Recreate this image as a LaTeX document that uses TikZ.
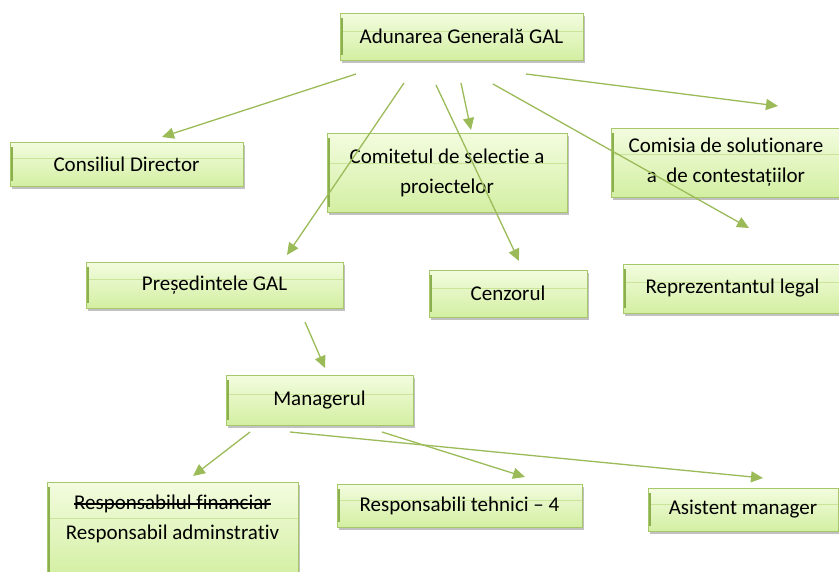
\documentclass[tikz,border=0pt]{standalone}
\usepackage{fontspec}
\setmainfont{Carlito}[Ligatures={NoCommon}]
\usetikzlibrary{arrows.meta,shadows}
\newsavebox{\strikebox}
\newcommand\mystrike[1]{\leavevmode\sbox{\strikebox}{#1}\rlap{\rule[0.24em]{\wd\strikebox}{0.065em}}\usebox{\strikebox}}
\definecolor{gborder}{HTML}{A6C86A}
\definecolor{gbar}{HTML}{8DB04E}
\definecolor{gline}{HTML}{9BBB59}
\definecolor{gtop}{HTML}{F3FCDF}
\definecolor{gbot}{HTML}{D3EFA2}
\definecolor{gstripe}{HTML}{BFDC86}
\tikzset{
  orgbox/.style={draw=gborder, line width=1pt, top color=gtop, bottom color=gbot,
    inner sep=0pt, align=center, font=\fontsize{21}{30}\selectfont,
    drop shadow={shadow xshift=2pt, shadow yshift=-3pt, fill=black!40, opacity=0.6},
    path picture={
      \draw[gstripe, line width=0.6pt, opacity=0.7]
        ([yshift=-0.38*\pgfkeysvalueof{/pgf/minimum height}]path picture bounding box.north west) --
        ([yshift=-0.38*\pgfkeysvalueof{/pgf/minimum height}]path picture bounding box.north east);
      \draw[gbar, line width=2.6pt]
        ([xshift=1.3pt,yshift=-5pt]path picture bounding box.north west) --
        ([xshift=1.3pt,yshift=5pt]path picture bounding box.south west);}},
  link/.style={draw=gline, line width=1.3pt, -{Triangle[length=12pt,width=11pt]}}
}
\begin{document}
\begin{tikzpicture}[x=1pt,y=-1pt]
\clip (0,0) rectangle (839,571);
\fill[white] (0,0) rectangle (839,571);

% boxes
\node[orgbox, minimum width=243pt, minimum height=47pt] (adun) at (461.5,36.5) {Adunarea Generală GAL};
\node[orgbox, minimum width=233pt, minimum height=44pt] (cons) at (126.5,164) {Consiliul Director};
\node[orgbox, minimum width=240pt, minimum height=79pt] (comit) at (447,172.5) {Comitetul de selectie a\\proiectelor};
\node[orgbox, minimum width=230pt, minimum height=69pt] (comis) at (726,162.5) {Comisia de solutionare\\a~ de contestațiilor};
\node[orgbox, minimum width=257pt, minimum height=46pt] (pres) at (214.5,285) {Președintele GAL};
\node[orgbox, minimum width=158pt, minimum height=47pt] (cenz) at (508,293.5) {Cenzorul};
\node[orgbox, minimum width=219pt, minimum height=49pt] (repr) at (732.5,288.5) {Reprezentantul legal};
\node[orgbox, minimum width=187pt, minimum height=50pt] (manag) at (319.5,400) {Managerul};
\node[orgbox, minimum width=251pt, minimum height=96pt,
  label={[font=\fontsize{21}{30}\selectfont, align=center, yshift=11pt]center:\mystrike{Responsabilul financiar}\\Responsabil adminstrativ}]
  (resp) at (172.5,530) {};
\node[orgbox, minimum width=245pt, minimum height=43pt] (tehn) at (459.5,505.5) {Responsabili tehnici – 4};
\node[orgbox, minimum width=190pt, minimum height=43pt] (asist) at (743,509.5) {Asistent manager};

% connector end points
\coordinate (s1) at (356,74);  \coordinate (t1) at (162,137);
\coordinate (s2) at (404,83);  \coordinate (t2) at (287,255);
\coordinate (s3) at (436,85);  \coordinate (t3) at (519,261);
\coordinate (s4) at (461,83);  \coordinate (t4) at (471,130);
\coordinate (s5) at (493,84);  \coordinate (t5) at (749,228);
\coordinate (s6) at (526,74);  \coordinate (t6) at (778,106);
\coordinate (s7) at (305,322); \coordinate (t7) at (325,368);
\coordinate (s8) at (250,432); \coordinate (t8) at (193,476);
\coordinate (s9) at (382,432); \coordinate (t9) at (525,477);
\coordinate (s10) at (290,432); \coordinate (t10) at (763,478);

\foreach \i in {1,...,10} \draw[link] (s\i) -- (t\i);
\end{tikzpicture}
\end{document}
